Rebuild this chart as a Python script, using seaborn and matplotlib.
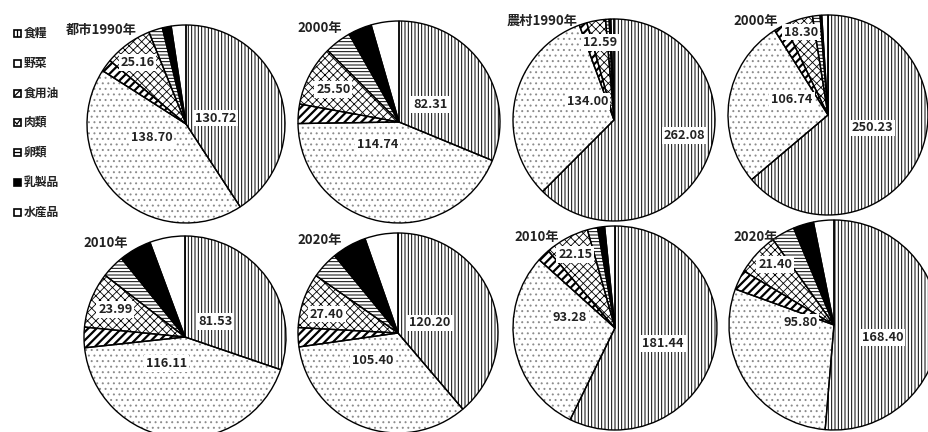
import matplotlib
matplotlib.use("Agg")
import matplotlib.pyplot as plt
from matplotlib.patches import Rectangle
import seaborn as sns
import pandas as pd

# Per-capita food consumption (kg), urban and rural households
categories = ["食糧", "野菜", "食用油", "肉類", "卵類", "乳製品", "水産品"]
panel_titles = ["都市1990年", "2000年", "農村1990年", "2000年",
                "2010年", "2020年", "2010年", "2020年"]

urban_1990 = [130.72, 138.70, 6.40, 25.16, 7.25, 4.63, 7.69]
urban_2000 = [82.31, 114.74, 8.16, 25.50, 11.21, 9.94, 11.74]
rural_1990 = [262.08, 134.00, 5.17, 12.59, 2.41, 1.10, 2.13]
rural_2000 = [250.23, 106.74, 7.06, 18.30, 4.77, 1.06, 3.92]
urban_2010 = [81.53, 116.11, 8.84, 23.99, 10.00, 13.98, 15.21]
urban_2020 = [120.20, 105.40, 9.60, 27.40, 13.50, 17.30, 16.60]
rural_2010 = [181.44, 93.28, 6.31, 22.15, 5.12, 3.55, 5.15]
rural_2020 = [168.40, 95.80, 10.00, 21.40, 11.80, 10.30, 10.30]

series = [urban_1990, urban_2000, rural_1990, rural_2000,
          urban_2010, urban_2020, rural_2010, rural_2020]

# long-form table of all panels
df = pd.DataFrame(
    [(i, c, v) for i, vals in enumerate(series) for c, v in zip(categories, vals)],
    columns=["panel", "category", "value"],
)

sns.set_theme(style="white")
plt.rcParams["font.family"] = ["Noto Sans CJK JP", "DejaVu Sans"]
plt.rcParams["hatch.linewidth"] = 0.7

W, H = 929, 432
fig = plt.figure(figsize=(W / 100, H / 100), dpi=100)

hatches = ["|||||", "...", "////", "xxxx", "-----", "", ""]
hatch_colors = ["black", "#8c8c8c", "black", "black", "black", "black", "black"]
hatch_widths = [0.7, 0.7, 1.6, 0.6, 0.7, 0.7, 0.7]
face_colors = ["white", "white", "white", "white", "white", "black", "white"]

# pie centre and radius on the canvas (pixels)
layout = [(186, 124, 99), (399, 122, 101), (614, 120, 101), (828, 115, 100),
          (185, 337, 101), (398, 333, 100), (615, 328, 102), (834, 325, 105)]
title_pos = [(66, 30), (297, 28), (507, 21), (733, 21),
             (83, 243), (297, 240), (514, 237), (733, 237)]
# label anchors inside each pie (unit-radius coordinates) for 食糧, 野菜, 肉類
label_pos = [
    [(0.30, 0.06), (-0.35, -0.14), (-0.49, 0.62)],
    [(0.31, 0.17), (-0.21, -0.22), (-0.65, 0.32)],
    [(0.70, -0.15), (-0.26, 0.18), (-0.14, 0.77)],
    [(0.44, -0.13), (-0.36, 0.15), (-0.27, 0.83)],
    [(0.30, 0.15), (-0.18, -0.26), (-0.69, 0.27)],
    [(0.32, 0.10), (-0.25, -0.27), (-0.71, 0.19)],
    [(0.47, -0.15), (-0.44, 0.10), (-0.39, 0.72)],
    [(0.46, -0.12), (-0.32, 0.02), (-0.56, 0.58)],
]


def style_hatch(patch, hatch, color, width):
    patch.set_hatch(hatch)
    patch.set_edgecolor(color)
    if hasattr(patch, "set_hatch_linewidth"):
        patch.set_hatch_linewidth(width)


for i, (cx, cy, r) in enumerate(layout):
    ax = fig.add_axes([(cx - r) / W, 1 - (cy + r) / H, 2 * r / W, 2 * r / H])
    vals = df[df.panel == i]["value"].to_list()
    wedges, _ = ax.pie(vals, startangle=90, counterclock=False, radius=1,
                       colors=face_colors, wedgeprops=dict(linewidth=0))
    for w, h, hc, hw in zip(wedges, hatches, hatch_colors, hatch_widths):
        style_hatch(w, h, hc, hw)
        w.set_clip_on(False)
    outlines, _ = ax.pie(vals, startangle=90, counterclock=False, radius=1,
                         wedgeprops=dict(fill=False, edgecolor="black", linewidth=1.0))
    for w in outlines:
        w.set_clip_on(False)
    ax.set_xlim(-1, 1)
    ax.set_ylim(-1, 1)
    ax.set_axis_off()
    for k, (lx, ly) in zip([0, 1, 3], label_pos[i]):
        ax.text(lx, ly, f"{vals[k]:.2f}", ha="center", va="center",
                fontsize=9.2, fontweight="bold", color="#222222",
                bbox=dict(boxstyle="square,pad=0.15", fc="white", ec="none"))
    tx, ty = title_pos[i]
    fig.text(tx / W, 1 - ty / H, panel_titles[i], ha="left", va="center",
             fontsize=9.5, fontweight="bold", color="#222222")

# legend column on the left, in pixel coordinates
lax = fig.add_axes([0, 0, 60 / W, 1])
lax.set_xlim(0, 60)
lax.set_ylim(H, 0)
lax.set_axis_off()
legend_y = [33, 63, 93, 122, 152, 182, 212]
# small glyph drawn inside each legend box (offsets from the box centre)
glyphs = [
    [((0, -3), (0, 3))],
    [],
    [((-3, 3), (3, -3))],
    [((-2.5, 0), (-0.5, 2)), ((-0.5, 2), (2.5, -2))],
    [((-3, 0), (3, 0))],
    [],
    [],
]
bx = 17.5
for cat, y, fc, marks in zip(categories, legend_y, face_colors, glyphs):
    lax.add_patch(Rectangle((bx - 3.5, y - 3.5), 7, 7, facecolor=fc,
                            edgecolor="black", linewidth=1.2))
    for (x0, y0), (x1, y1) in marks:
        lax.plot([bx + x0, bx + x1], [y + y0, y + y1], color="black", lw=0.9)
    lax.text(23.5, y, cat, ha="left", va="center", fontsize=8.5,
             fontweight="bold", color="#222222")

fig.savefig("out.png", dpi=100)
